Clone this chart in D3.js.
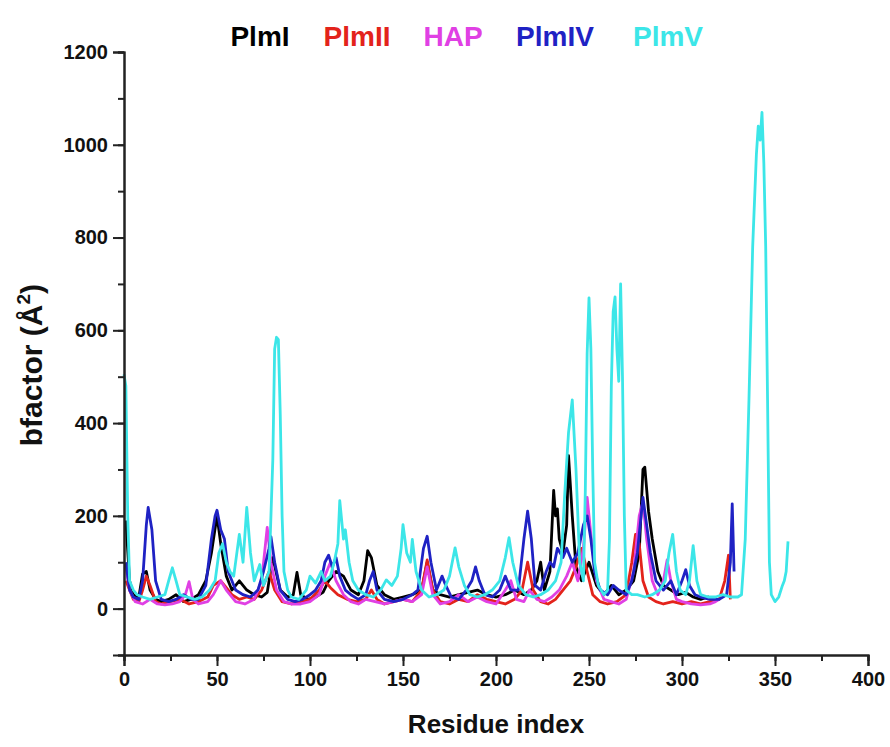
<!DOCTYPE html>
<html>
<head>
<meta charset="utf-8">
<script src="https://cdn.jsdelivr.net/npm/d3@7"></script>
<style>
  html, body { margin: 0; padding: 0; background: #fff; }
  svg { display: block; }
  text { font-family: "Liberation Sans", Arial, Helvetica, sans-serif; font-weight: bold; }
</style>
</head>
<body>
<svg id="chart" width="890" height="747"></svg>
<script>
// B-factor profiles per residue: [residue index, bfactor (Å²)]
const plmI = [[1,190],[3,60],[5,30],[8,25],[10,75],[12,80],[14,40],[17,20],[20,15],[24,20],[28,30],[32,15],[36,20],[40,30],[44,60],[47,120],[50,200],[52,140],[55,70],[58,40],[62,60],[66,40],[70,30],[74,25],[77,35],[80,110],[84,40],[88,25],[91,30],[93,78],[95,30],[99,20],[103,25],[107,35],[110,60],[114,80],[118,70],[122,40],[126,30],[129,60],[131,125],[133,110],[136,50],[140,30],[145,20],[150,25],[155,30],[160,40],[163,100],[166,40],[170,30],[175,25],[180,30],[185,35],[190,40],[195,30],[200,25],[205,30],[210,40],[215,30],[219,40],[222,60],[224,100],[226,40],[229,80],[231,255],[232,200],[233,215],[234,150],[236,120],[238,180],[239,330],[241,200],[243,90],[246,60],[250,100],[254,50],[258,30],[262,50],[266,30],[270,40],[274,60],[277,120],[279,300],[280,305],[282,210],[284,150],[287,80],[290,50],[294,40],[298,30],[302,35],[306,25],[310,20],[314,25],[317,20]];

const plmII = [[1,60],[3,40],[5,20],[8,15],[10,40],[12,70],[14,50],[17,15],[20,10],[25,15],[30,20],[35,10],[40,15],[45,25],[48,50],[52,60],[55,45],[58,30],[62,20],[66,25],[70,20],[74,40],[78,80],[81,40],[85,15],[90,10],[95,15],[100,20],[105,40],[108,60],[111,45],[115,30],[120,20],[125,15],[130,20],[133,40],[136,20],[140,10],[145,15],[150,20],[155,15],[160,40],[163,105],[166,40],[170,15],[175,10],[180,20],[185,15],[190,30],[195,20],[200,15],[205,10],[210,20],[214,40],[217,100],[220,40],[224,15],[228,10],[232,20],[236,40],[240,60],[243,90],[246,130],[249,80],[252,30],[256,15],[260,10],[265,15],[270,30],[273,100],[275,160],[277,140],[279,60],[282,25],[286,15],[290,10],[295,15],[300,10],[305,15],[310,10],[315,15],[320,20],[323,60],[325,115],[326,20]];

const hap = [[1,90],[3,40],[6,15],[10,10],[14,20],[18,10],[22,8],[26,10],[30,15],[33,30],[35,58],[37,20],[40,10],[45,15],[48,30],[52,60],[55,40],[60,15],[65,10],[70,20],[74,60],[77,175],[79,100],[82,40],[86,15],[90,10],[95,10],[100,15],[105,30],[108,70],[111,100],[114,60],[118,30],[122,15],[126,10],[130,20],[135,15],[140,10],[145,15],[150,20],[155,15],[160,30],[163,90],[166,30],[170,10],[175,15],[180,30],[185,15],[190,25],[195,15],[200,10],[205,40],[208,60],[211,20],[215,15],[218,40],[222,20],[226,15],[230,25],[234,40],[238,70],[241,100],[244,60],[247,130],[249,240],[251,160],[254,60],[258,20],[262,15],[266,10],[270,20],[274,80],[277,200],[279,230],[281,150],[284,60],[287,30],[290,60],[292,105],[294,60],[297,20],[300,15],[305,10],[310,8],[315,10],[318,15],[320,20]];

const plmIV = [[1,100],[3,40],[5,25],[8,20],[10,60],[12,180],[13,218],[15,170],[17,60],[20,20],[24,15],[28,20],[32,30],[36,20],[40,20],[44,50],[47,150],[49,200],[50,212],[52,170],[54,150],[56,80],[60,40],[64,30],[68,25],[72,40],[75,80],[78,130],[79,155],[81,100],[84,40],[88,20],[92,15],[96,20],[100,30],[103,40],[106,60],[108,100],[110,115],[112,90],[114,110],[116,70],[119,40],[122,30],[126,20],[130,30],[132,60],[134,80],[136,40],[140,20],[145,15],[150,20],[155,30],[158,40],[161,130],[163,156],[165,100],[168,40],[171,70],[173,50],[176,25],[180,20],[184,40],[187,60],[189,90],[191,60],[194,30],[198,25],[202,40],[205,70],[208,40],[212,40],[215,150],[217,210],[219,150],[221,50],[224,40],[227,80],[229,100],[231,90],[233,130],[236,110],[238,130],[241,100],[244,120],[247,180],[249,200],[251,150],[253,80],[256,40],[260,30],[263,50],[266,40],[270,30],[273,60],[276,120],[278,200],[279,240],[281,180],[283,120],[286,60],[290,40],[294,60],[297,30],[300,60],[302,84],[304,50],[307,30],[310,25],[315,20],[320,20],[324,30],[326,100],[327,226],[328,80]];

const plmV = [[0,505],[1,480],[2,200],[3,60],[5,40],[7,30],[10,25],[14,20],[18,25],[22,30],[24,60],[26,88],[28,60],[30,30],[34,25],[38,20],[42,25],[46,40],[49,60],[51,120],[53,140],[55,100],[57,80],[59,70],[61,130],[62,160],[64,100],[66,218],[68,120],[70,60],[73,95],[75,50],[78,80],[79,200],[80,320],[81,560],[82,585],[83,580],[84,420],[85,200],[86,80],[88,40],[90,25],[94,20],[98,40],[100,70],[103,55],[106,80],[108,60],[111,70],[113,100],[115,140],[116,233],[118,150],[119,170],[121,100],[123,60],[126,40],[130,30],[134,25],[138,40],[141,62],[144,50],[147,70],[149,130],[150,181],[152,120],[154,100],[155,149],[157,80],[160,40],[164,25],[168,30],[172,40],[175,70],[178,131],[180,90],[183,50],[186,30],[190,25],[194,30],[198,40],[202,60],[205,110],[207,153],[209,100],[212,50],[216,30],[220,25],[224,30],[228,40],[232,60],[235,100],[237,250],[239,380],[241,450],[243,300],[245,100],[247,60],[248,250],[249,550],[250,670],[251,560],[252,300],[253,100],[255,50],[258,30],[260,40],[261,150],[262,480],[263,640],[264,672],[265,560],[266,490],[267,700],[268,500],[269,200],[270,40],[273,30],[276,30],[280,25],[284,30],[288,40],[291,60],[293,120],[295,160],[297,80],[299,40],[302,30],[304,60],[306,136],[308,60],[310,30],[314,25],[318,25],[322,30],[326,25],[330,25],[332,30],[334,150],[336,450],[338,780],[340,980],[341,1040],[342,1010],[343,1070],[344,960],[345,780],[346,450],[347,100],[348,30],[350,15],[352,25],[354,50],[355,60],[356,80],[357,145]];

const seriesNames = ["PlmI", "PlmII", "HAP", "PlmIV", "PlmV"];
const seriesData = [plmI, plmII, hap, plmIV, plmV];
const seriesColors = ["#000000", "#e3231b", "#e040e4", "#1f22c4", "#3ce6e8"];

const xMajorTicks = [0, 50, 100, 150, 200, 250, 300, 350, 400];
const yMajorTicks = [0, 200, 400, 600, 800, 1000, 1200];

const svg = d3.select("#chart");
const x = d3.scaleLinear().domain([0, 400]).range([124, 868]);
const y = d3.scaleLinear().domain([-100, 1200]).range([655, 52]);

// data lines
const line = d3.line().x(d => x(d[0])).y(d => y(d[1]));
const plot = svg.append("g");
seriesData.forEach((s, i) => {
  plot.append("path")
    .datum(s)
    .attr("fill", "none")
    .attr("stroke", seriesColors[i])
    .attr("stroke-width", 2.8)
    .attr("stroke-linejoin", "round")
    .attr("d", line);
});

// axes
const axisColor = "#222";
const xAxis = svg.append("g").attr("transform", `translate(0,${y(-100)})`);
xAxis.call(d3.axisBottom(x).tickValues(d3.range(0, 401, 25)).tickSize(6).tickFormat(""));
xAxis.append("g").call(d3.axisBottom(x).tickValues(xMajorTicks).tickSize(11).tickPadding(6).tickFormat(d3.format("d")));
const yAxis = svg.append("g").attr("transform", `translate(${x(0)},0)`);
yAxis.call(d3.axisLeft(y).tickValues(d3.range(-100, 1201, 100)).tickSize(6).tickFormat(""));
yAxis.append("g").call(d3.axisLeft(y).tickValues(yMajorTicks).tickSize(11).tickPadding(5).tickFormat(d3.format("d")));
svg.selectAll(".domain").attr("stroke", axisColor).attr("stroke-width", 2);
svg.selectAll(".tick line").attr("stroke", axisColor).attr("stroke-width", 2);
svg.selectAll(".tick text").attr("fill", "#111").style("font-size", "20px")
  .style("font-family", "'Liberation Sans', Arial, sans-serif").style("font-weight", "bold");

// axis titles
svg.append("text")
  .attr("x", x(200)).attr("y", 733)
  .attr("text-anchor", "middle")
  .style("font-size", "26px").attr("fill", "#111")
  .text("Residue index");

const yTitle = svg.append("text")
  .attr("transform", `translate(42,${y(525)}) rotate(-90)`)
  .attr("text-anchor", "middle")
  .style("font-size", "30px").attr("fill", "#111");
yTitle.append("tspan").text("bfactor (Å");
yTitle.append("tspan").attr("dy", -12).style("font-size", "19px").text("2");
yTitle.append("tspan").attr("dy", 12).text(")");

// legend across the top
const legendX = [260, 357, 453, 555, 668];
seriesNames.forEach((n, i) => {
  svg.append("text")
    .attr("x", legendX[i]).attr("y", 46)
    .attr("text-anchor", "middle")
    .style("font-size", "28px")
    .attr("fill", seriesColors[i])
    .text(n);
});
</script>
</body>
</html>
